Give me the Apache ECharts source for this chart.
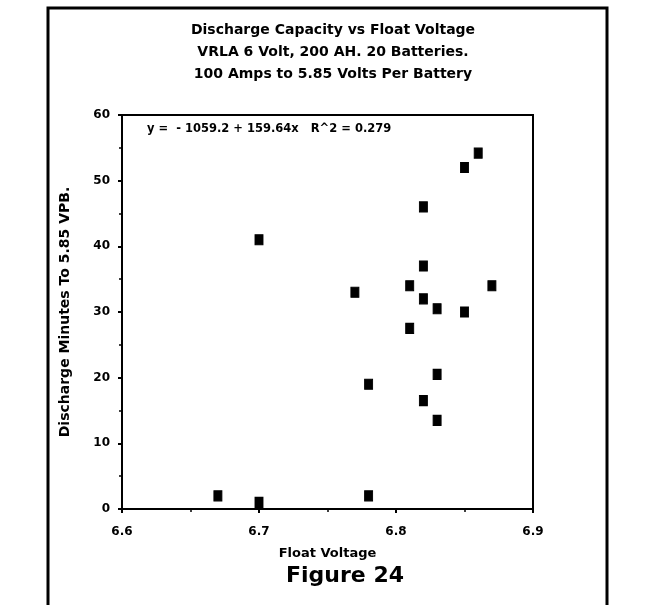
<!DOCTYPE html>
<html><head><meta charset="utf-8">
<script src="https://cdn.jsdelivr.net/npm/echarts@6/dist/echarts.min.js"></script>
<style>html,body{margin:0;padding:0;background:#fff}#c{width:650px;height:605px}</style>
</head><body><div id="c"></div>
<script>
var titleLines = ['Discharge Capacity vs Float Voltage','VRLA 6 Volt, 200 AH. 20 Batteries.','100 Amps to 5.85 Volts Per Battery'];
var floatVoltage = [6.67, 6.70, 6.70, 6.77, 6.78, 6.78, 6.81, 6.81, 6.82, 6.82, 6.82, 6.82, 6.83, 6.83, 6.83, 6.85, 6.85, 6.86, 6.87];
var dischargeMinutes = [2.0, 1.0, 41.0, 33.0, 19.0, 2.0, 34.0, 27.5, 46.0, 37.0, 32.0, 16.5, 30.5, 20.5, 13.5, 52.0, 30.0, 54.2, 34.0];
var equationText = 'y =  - 1059.2 + 159.64x   R^2 = 0.279';
var xName = 'Float Voltage';
var yName = 'Discharge Minutes To 5.85 VPB.';
var figureLabel = 'Figure 24';

var FONT = '"DejaVu Sans", "Liberation Sans", Arial, sans-serif';
var pts = floatVoltage.map(function(v,i){return [v, dischargeMinutes[i]];});
var chart = echarts.init(document.getElementById('c'), null, {renderer:'canvas'});
chart.setOption({
  animation:false,
  backgroundColor:'#fff',
  title:{
    text: titleLines.join('\n'), left:328, top:14, textAlign:'center',
    textStyle:{fontFamily:FONT, fontWeight:'bold', fontSize:14, lineHeight:22, color:'#000'}
  },
  grid:{left:122, top:115, width:411, height:394, show:true, borderColor:'#000', borderWidth:2, backgroundColor:'transparent'},
  xAxis:{
    type:'value', min:6.6, max:6.9, interval:0.1,
    name:xName, nameLocation:'middle', nameGap:38,
    nameTextStyle:{fontFamily:FONT, fontWeight:'bold', fontSize:13, color:'#000'},
    axisLine:{lineStyle:{color:'#000', width:2}},
    axisTick:{length:4, lineStyle:{color:'#000', width:2}},
    minorTick:{show:true, splitNumber:2, length:3, lineStyle:{color:'#000', width:1.5}},
    axisLabel:{fontFamily:FONT, fontWeight:'bold', fontSize:12, color:'#000', margin:17,
      formatter:function(v){return v.toFixed(1);}},
    splitLine:{show:false}
  },
  yAxis:{
    type:'value', min:0, max:60, interval:10,
    name:yName, nameLocation:'middle', nameGap:50, nameRotate:90,
    nameTextStyle:{fontFamily:FONT, fontWeight:'bold', fontSize:14, color:'#000'},
    axisLine:{lineStyle:{color:'#000', width:2}},
    axisTick:{length:4, lineStyle:{color:'#000', width:2}},
    minorTick:{show:true, splitNumber:2, length:3, lineStyle:{color:'#000', width:1.5}},
    axisLabel:{fontFamily:FONT, fontWeight:'bold', fontSize:12, color:'#000', margin:12},
    splitLine:{show:false}
  },
  series:[{
    type:'scatter', data:pts, symbol:'rect', symbolSize:[8,10],
    itemStyle:{color:'#000', opacity:1, borderColor:'#000', borderWidth:1}
  }],
  graphic:[
    {type:'rect', shape:{x:48, y:8, width:559, height:620}, style:{fill:'none', stroke:'#000', lineWidth:3}, silent:true},
    {type:'text', x:147, y:123, style:{text:equationText, font:'bold 11.5px '+FONT, fill:'#000'}},
    {type:'text', x:345, y:565, style:{text:figureLabel, font:'bold 22px '+FONT, fill:'#000', textAlign:'center'}}
  ]
});
</script></body></html>
